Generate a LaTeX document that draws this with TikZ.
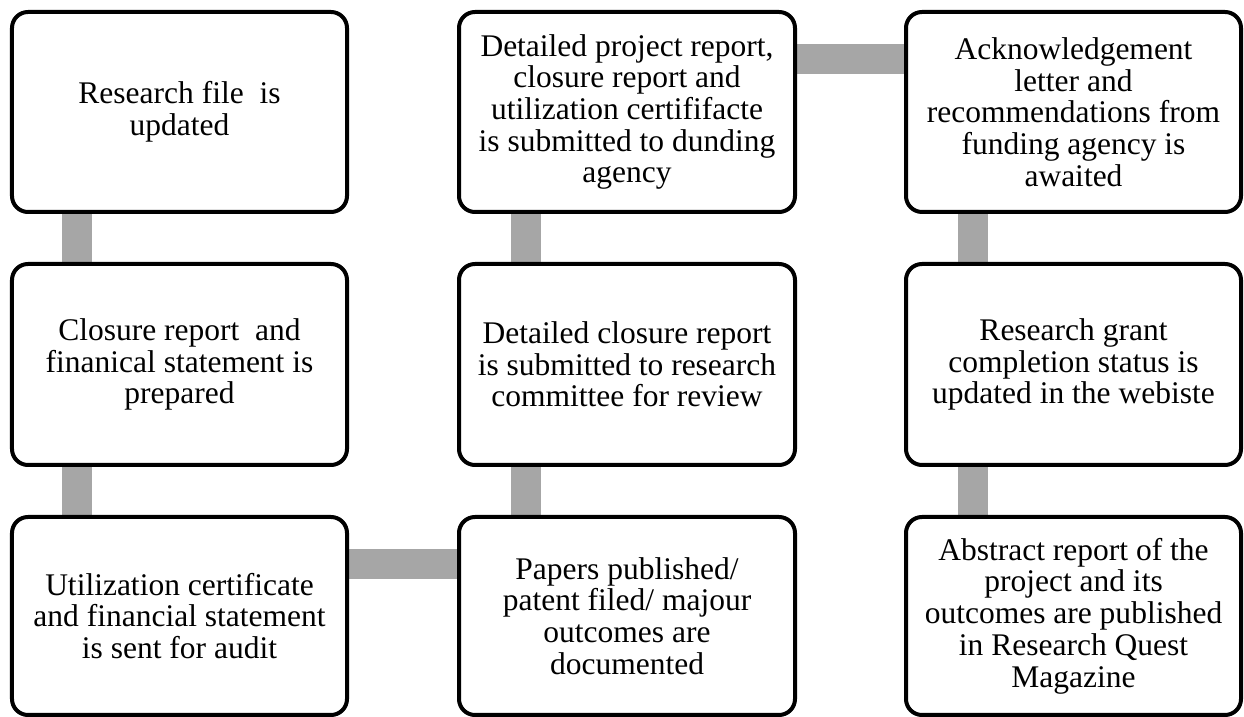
\documentclass[tikz,border=0pt]{standalone}
\usepackage{fontspec}
\setmainfont{Liberation Serif}
\usetikzlibrary{backgrounds,calc}
\definecolor{conngray}{RGB}{166,166,166}
\tikzset{
  stepbox/.style={draw=black, line width=4bp, rounded corners=16bp, fill=white,
    minimum width=335bp, minimum height=200bp, align=center, inner sep=0pt,
    font=\fontsize{31.5bp}{31.7bp}\selectfont},
  conn/.style={draw=conngray, line width=30bp}
}
\begin{document}
\begin{tikzpicture}[x=1bp,y=1bp]
\useasboundingbox (0,0) rectangle (1244,717);
% rows: y_tikz = 717 - y_px
\node[stepbox] (a1) at (179.5,605) {Research file~ is\\updated};
\node[stepbox, minimum height=201bp] (a2) at (179.5,352.5) {Closure report~ and\\finanical statement is\\prepared};
\node[stepbox, minimum height=198bp] (a3) at (179.5,101) {Utilization certificate\\and financial statement\\is sent for audit};
\node[stepbox, minimum width=336bp] (b1) at (627,605) {Detailed project report,\\closure report and\\utilization certififacte\\is submitted to dunding\\agency};
\node[stepbox, minimum width=336bp, minimum height=201bp] (b2) at (627,352.5) {Detailed closure report\\is submitted to research\\committee for review};
\node[stepbox, minimum width=336bp, minimum height=198bp] (b3) at (627,101) {Papers published/\\patent filed/ majour\\outcomes are\\documented};
\node[stepbox] (c1) at (1073.5,605) {Acknowledgement\\letter and\\recommendations from\\funding agency is\\awaited};
\node[stepbox, minimum height=201bp] (c2) at (1073.5,352.5) {Research grant\\completion status is\\updated in the webiste};
\node[stepbox, minimum height=198bp] (c3) at (1073.5,101) {Abstract report of the\\project and its\\outcomes are published\\in Research Quest\\Magazine};
\begin{scope}[on background layer]
  \draw[conn] ($(a1.south west)+(67.5,0)$) -- ($(a2.north west)+(67.5,0)$);
  \draw[conn] ($(a2.south west)+(67.5,0)$) -- ($(a3.north west)+(67.5,0)$);
  \draw[conn] ($(a3.north east)+(0,-49.5)$) -- ($(b3.north west)+(0,-49.5)$);
  \draw[conn] ($(b3.north west)+(68.5,0)$) -- ($(b2.south west)+(68.5,0)$);
  \draw[conn] ($(b2.north west)+(68.5,0)$) -- ($(b1.south west)+(68.5,0)$);
  \draw[conn] ($(b1.north east)+(0,-49.5)$) -- ($(c1.north west)+(0,-49.5)$);
  \draw[conn] ($(c1.south west)+(68.5,0)$) -- ($(c2.north west)+(68.5,0)$);
  \draw[conn] ($(c2.south west)+(68.5,0)$) -- ($(c3.north west)+(68.5,0)$);
\end{scope}
\end{tikzpicture}
\end{document}
